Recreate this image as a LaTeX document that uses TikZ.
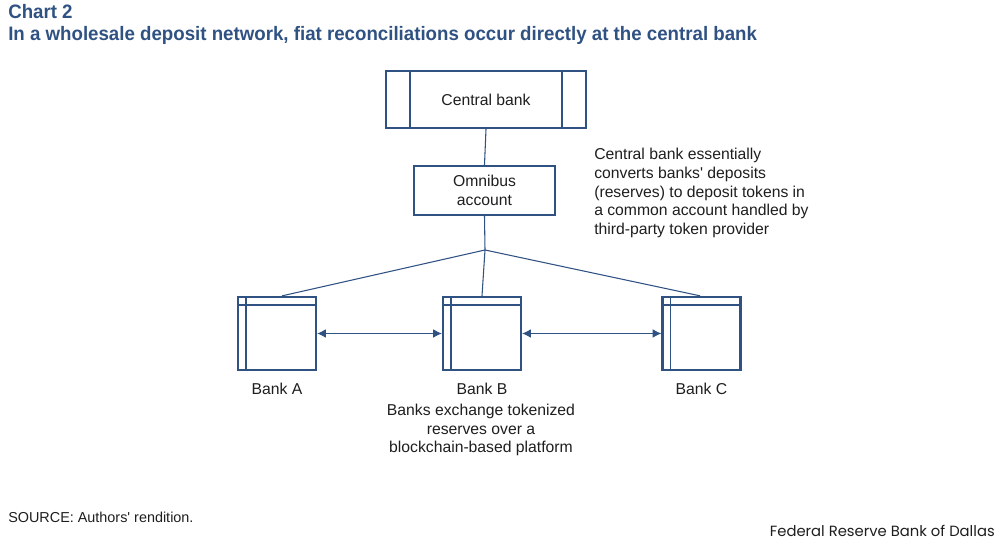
\documentclass[tikz,border=0pt]{standalone}
\usepackage{fontspec}
\setmainfont{Liberation Sans}
\newfontfamily\narrowfont[FakeStretch=0.96]{Liberation Sans}
\newfontfamily\geofont{Poppins}
\usetikzlibrary{arrows.meta,positioning}
\definecolor{DallasBlue}{RGB}{47,82,130}
\definecolor{TextGray}{RGB}{30,30,30}

\begin{document}
\begin{tikzpicture}[x=.75pt,y=-.75pt,>={Latex[length=6.5pt,width=6.5pt]},
  box/.style={draw=DallasBlue,line width=1.7pt,inner sep=0pt,text=TextGray},
  boxline/.style={DallasBlue,line width=1.1pt},
  link/.style={DallasBlue,line width=.8pt},
  lbl/.style={text=TextGray,font=\fontsize{11.8}{13.9}\selectfont,inner sep=0pt}]
\useasboundingbox (0,0) rectangle (997,541);
% title
\node[anchor=west,text=DallasBlue,font=\narrowfont\bfseries\fontsize{14.6}{16}\selectfont,inner sep=0pt] (chart) at (8,12) {Chart 2};
\node[anchor=west,text=DallasBlue,font=\narrowfont\bfseries\fontsize{14.6}{16}\selectfont,inner sep=0pt] (title) at (8,35) {In a wholesale deposit network, fiat reconciliations occur directly at the central bank};
% central bank and omnibus account
\node[box,lbl,minimum width=150pt,minimum height=42.75pt] (cb) at (486,99.5) {Central bank};
\draw[boxline] ([xshift=18.75pt]cb.north west)--([xshift=18.75pt]cb.south west);
\draw[boxline] ([xshift=-18.75pt]cb.north east)--([xshift=-18.75pt]cb.south east);
\node[box,lbl,minimum width=105.75pt,minimum height=36.75pt,align=center] (omni) at (484.5,190.5) {Omnibus\\account};
\coordinate (hub) at (485,250);
\draw[link] (cb.south)--(omni.north);
\draw[link] (omni.south)--(hub);
% banks
\foreach \n/\x in {A/277,B/482,C/701.5}{
\node[box,minimum width=58.5pt,minimum height=54.75pt] (bank\n) at (\x,333.5) {};
\draw[boxline] ([yshift=-6.75pt]bank\n.north west)--([yshift=-6.75pt]bank\n.north east);
\draw[boxline] ([xshift=6.75pt]bank\n.north west)--([xshift=6.75pt]bank\n.south west);
\node[lbl] (name\n) at (\x,389) {Bank \n};}
\draw[link] (hub)--([xshift=3.75pt]bankA.north);
\draw[link] (hub)--(bankB.north);
\draw[link] (hub)--([xshift=-1pt]bankC.north);
\draw[link,<->] (bankA.east)--(bankB.west);
\draw[link,<->] (bankB.east)--(bankC.west);
% notes
\node[lbl,anchor=west,align=left] (note) at (594,193) {Central bank essentially\\converts banks\textquotesingle{} deposits\\(reserves) to deposit tokens in\\a common account handled by\\third-party token provider};
\node[lbl,align=center] (platform) at (481,430) {Banks exchange tokenized\\reserves over a\\blockchain-based platform};
\node[anchor=west,text=TextGray,font=\fontsize{10.8}{12}\selectfont,inner sep=0pt] (source) at (8,517) {SOURCE: Authors\textquotesingle{} rendition.};
\node[anchor=east,text=TextGray,font=\geofont\fontsize{11.1}{12}\selectfont,inner sep=0pt] (frb) at (995,531) {Federal Reserve Bank of Dallas};
\end{tikzpicture}
\end{document}
